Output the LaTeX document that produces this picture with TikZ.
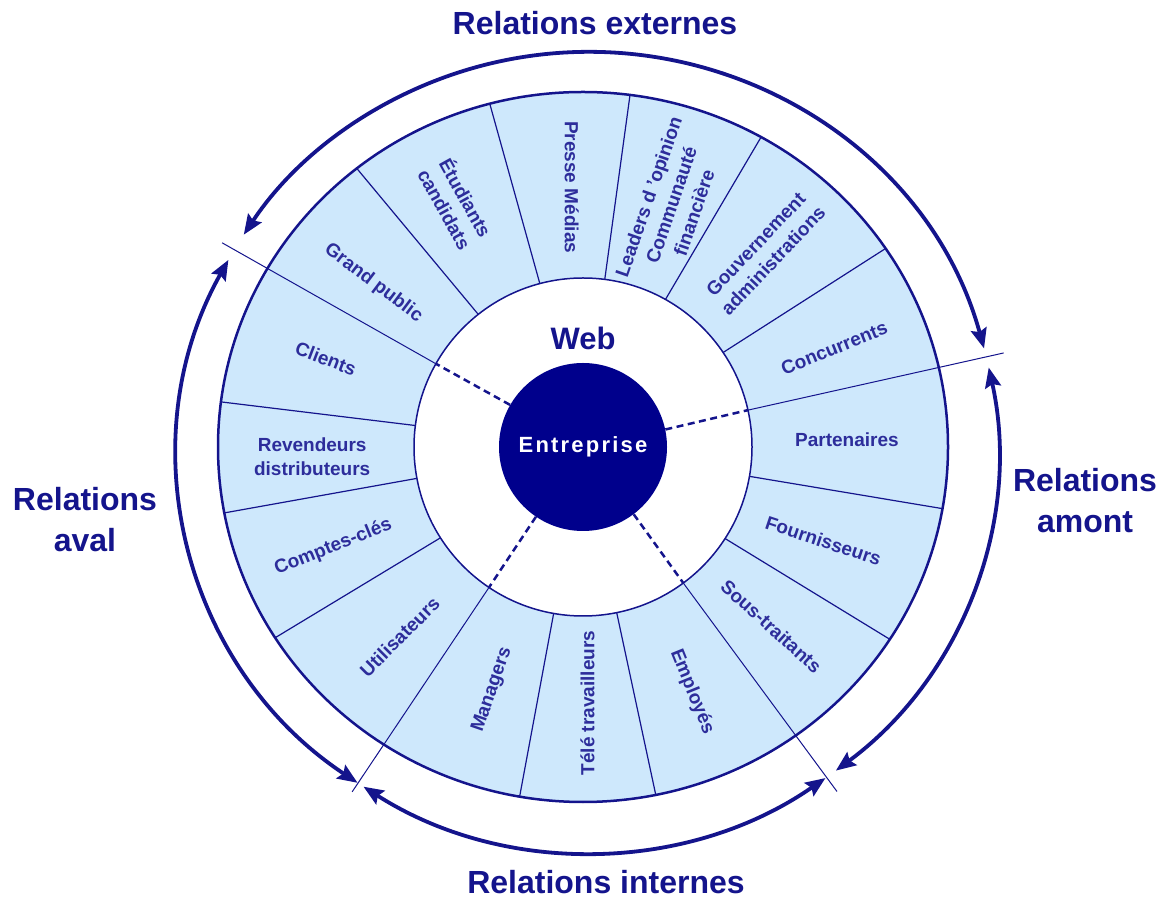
\documentclass[tikz,border=0pt]{standalone}
\usepackage{fontspec}
\setmainfont{Liberation Sans}
\usetikzlibrary{arrows.meta,calc}
\definecolor{navy}{RGB}{20,20,140}
\definecolor{txtblue}{RGB}{45,45,155}
\definecolor{ringfill}{RGB}{206,232,252}
\definecolor{corefill}{RGB}{0,0,140}
\tikzset{
  lbl/.style={text=txtblue, font=\bfseries\fontsize{19}{24}\selectfont, align=center, inner sep=0pt},
  reltitle/.style={text=navy, font=\bfseries\fontsize{32}{41}\selectfont, align=center, inner sep=0pt},
  sepline/.style={draw=navy, line width=1.2pt},
  quadline/.style={draw=navy, line width=1pt},
  dashline/.style={draw=navy, line width=2.5pt, dash pattern=on 7pt off 4.5pt},
  relarrow/.style={draw=navy, line width=3.8pt, {Stealth[length=20pt,width=16pt,inset=3pt]}-{Stealth[length=20pt,width=16pt,inset=3pt]}},
}
\begin{document}
\begin{tikzpicture}[x=1pt,y=1pt]
\useasboundingbox (0,0) rectangle (1174,899);
\coordinate (C) at (583,452);
\coordinate (A) at (588,447);
% ring
\fill[ringfill, even odd rule] (C) ellipse [x radius=365, y radius=355] (C) circle [radius=169];
% separators
\foreach \a in {128.3,104.8,82.6,60.8,34,-10,-32.8,-78.5,-100,-147.5,-169.3,172.7}{
  \draw[sepline] ($(C)+(\a:169pt)$) -- ($(C)+(\a:365pt and 355pt)$);
}
% quadrant lines
\coordinate (q1i) at ($(C)+(150.5:169pt)$);
\coordinate (q1o) at ($(C)+(150.5:414.6pt)$);
\coordinate (q2i) at ($(C)+(12.6:169pt)$);
\coordinate (q2o) at ($(C)+(12.6:431pt)$);
\coordinate (q3i) at ($(C)+(-53.6:169pt)$);
\coordinate (q3o) at ($(C)+(-53.6:428pt)$);
\coordinate (q4i) at ($(C)+(236.2:169pt)$);
\coordinate (q4o) at ($(C)+(236.2:415pt)$);
\draw[quadline] (q1i) -- (q1o);
\draw[quadline] (q2i) -- (q2o);
\draw[quadline] (q3i) -- (q3o);
\draw[quadline] (q4i) -- (q4o);
% ring outlines
\draw[navy, line width=2.5pt] (C) ellipse [x radius=365, y radius=355];
\draw[navy, line width=1.5pt] (C) circle [radius=169];
% core
\node[circle, fill=corefill, minimum size=168pt, inner sep=0pt, text=white,
  font=\bfseries\fontsize{22}{26}\selectfont\addfontfeature{LetterSpace=10}] (ent) at (583,452) {Entreprise};
\node[text=navy, font=\bfseries\fontsize{31}{36}\selectfont, inner sep=0pt] (web) at (583,561) {Web};
\draw[dashline] (ent.150.5) -- (q1i);
\draw[dashline] (ent.12.6) -- (q2i);
\draw[dashline] (ent.-53.6) -- (q3i);
\draw[dashline] (ent.236.2) -- (q4i);
% labels
\node[lbl, rotate=-21] (clients) at ($(C)+(161:272pt)$) {Clients};
\node[lbl, rotate=-37] (grand) at ($(C)+(142:266pt)$) {Grand public};
\node[lbl, rotate=-61] (etud) at ($(C)+(117.5:275pt)$) {Étudiants\\candidats};
\node[lbl, rotate=-90] (presse) at ($(C)+(92.5:260pt)$) {Presse Médias};
\node[lbl, rotate=71] (leaders) at ($(C)+(70:258pt)$) {Leaders d 'opinion\\Communauté\\financière};
\node[lbl, rotate=46.5] (gouv) at ($(C)+(47:266pt)$) {Gouvernement\\administrations};
\node[lbl, rotate=22] (conc) at ($(C)+(21.5:270pt)$) {Concurrents};
\node[lbl] (part) at ($(C)+(1.5:264pt)$) {Partenaires};
\node[lbl, rotate=-18.5] (fourn) at ($(C)+(-21.3:258pt)$) {Fournisseurs};
\node[lbl, rotate=-42] (sous) at ($(C)+(-43.6:260pt)$) {Sous-traitants};
\node[lbl, rotate=-68] (empl) at ($(C)+(-66:268pt)$) {Employés};
\node[lbl, rotate=90] (tele) at ($(C)+(-89:256pt)$) {Télé travailleurs};
\node[lbl, rotate=71] (manag) at ($(C)+(249.5:259pt)$) {Managers};
\node[lbl, rotate=45] (util) at ($(C)+(226:264pt)$) {Utilisateurs};
\node[lbl, rotate=22] (comptes) at ($(C)+(201.8:269pt)$) {Comptes-clés};
\node[lbl] (reven) at ($(C)+(182:271pt)$) {Revendeurs\\distributeurs};
% relation arrows
\draw[relarrow] ($(A)+(15:410pt and 400pt)$) arc[start angle=15, end angle=147.1, x radius=410pt, y radius=400pt];
\draw[relarrow] ($(A)+(151.3:410pt and 400pt)$) arc[start angle=151.3, end angle=235.8, x radius=410pt, y radius=400pt];
\draw[relarrow] ($(A)+(236.8:410pt and 400pt)$) arc[start angle=236.8, end angle=305.4, x radius=410pt, y radius=400pt];
\draw[relarrow] ($(A)+(-52.8:410pt and 400pt)$) arc[start angle=-52.8, end angle=12.2, x radius=410pt, y radius=400pt];
% titles
\node[reltitle] (ext) at (595,876) {Relations externes};
\node[reltitle] (aval) at (85,379) {Relations\\aval};
\node[reltitle] (amont) at (1085,398) {Relations\\amont};
\node[reltitle] (intern) at (606,17) {Relations internes};
\end{tikzpicture}
\end{document}
